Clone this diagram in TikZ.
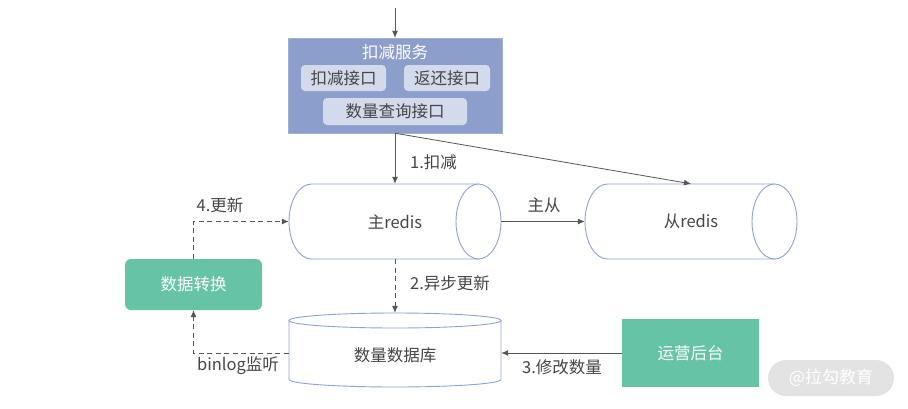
\documentclass[tikz,border=0pt]{standalone}
\usepackage{fontspec}
\setmainfont{Noto Sans CJK SC}
\usetikzlibrary{arrows.meta}
\definecolor{svc}{HTML}{8C9ECC}
\definecolor{subc}{HTML}{D3DAEC}
\definecolor{cyl}{HTML}{8EA2D8}
\definecolor{grn}{HTML}{66C3A5}
\definecolor{txt}{HTML}{454545}
\definecolor{lnc}{HTML}{555555}
\definecolor{wm}{HTML}{E3E3E3}
\begin{document}
\begin{tikzpicture}[x=1pt,y=-1pt,
  every node/.style={font=\fontsize{16.5}{19}\selectfont, text=txt},
  subbox/.style={fill=subc, rounded corners=4pt, inner sep=0pt, minimum height=26pt},
  greenbox/.style={fill=grn, text=white, inner sep=0pt},
  area/.style={inner sep=0pt},
  conn/.style={draw=lnc, line width=0.8pt, -{Latex[length=7pt,width=6pt]}},
  dconn/.style={conn, dash pattern=on 5pt off 3.5pt},
  cylline/.style={draw=cyl, line width=0.9pt, fill=white}]
\useasboundingbox (0,0) rectangle (908,408);

% service box
\node[fill=svc, draw=svc!80!white, inner sep=0pt, minimum width=214pt, minimum height=95pt] (svc) at (395,85.5) {};
\node[text=white] (svct) at (395,52) {扣减服务};
\node[subbox, minimum width=85pt] (kj) at (343.5,78) {扣减接口};
\node[subbox, minimum width=86pt] (fh) at (447,78) {返还接口};
\node[subbox, minimum width=144pt, minimum height=27pt] (cx) at (395,111.5) {数量查询接口};

% master redis (horizontal cylinder)
\draw[cylline] (478.5,184) -- (311.5,184) arc[start angle=-90, end angle=-270, x radius=22.5, y radius=37.5] -- (478.5,259);
\draw[cylline] (478.5,221.5) ellipse [x radius=22.5, y radius=37.5];
\node[area, minimum width=212pt, minimum height=75pt] (mr) at (395,221.5) {主redis};

% slave redis
\draw[cylline] (774.5,184) -- (607.5,184) arc[start angle=-90, end angle=-270, x radius=22.5, y radius=37.5] -- (774.5,259);
\draw[cylline] (774.5,221.5) ellipse [x radius=22.5, y radius=37.5];
\node[area, minimum width=212pt, minimum height=75pt] (sr) at (691,221.5) {从redis};

% database (vertical cylinder)
\draw[cylline] (501,320.5) -- (501,379.5) arc[start angle=0, end angle=180, x radius=106, y radius=7.5] -- (289,320.5) -- cycle;
\draw[cylline] (395,320.5) ellipse [x radius=106, y radius=7.5];
\node[area, minimum width=212pt, minimum height=74pt] (db) at (395,350) {};
\node (dbt) at (395,355) {数量数据库};

% green boxes
\node[greenbox, rounded corners=6pt, minimum width=137pt, minimum height=51pt] (sj) at (193.5,284.5) {数据转换};
\node[greenbox, minimum width=137pt, minimum height=68pt] (yy) at (690.5,353) {运营后台};

% watermark
\node[fill=wm, rounded corners=18pt, minimum width=126pt, minimum height=36pt, inner sep=0pt, text=white, font=\fontsize{17}{20}\selectfont] (wmk) at (831,378) {@拉勾教育};

% connectors
\coordinate (topin) at (395,8);
\draw[conn] (topin) -- (svc.north);
\draw[conn] (svc.south) -- (mr.north);
\draw[conn] (svc.south) -- (sr.north);
\draw[conn] (mr.east) -- (sr.west);
\draw[dconn] (mr.south) -- (db.north);
\draw[conn] (yy.west) -- (yy.west -| db.east);
\draw[dconn] (yy.west -| db.west) -| (sj.south);
\draw[dconn] (sj.north) |- (mr.west);

% labels
\node (l1) at (433.5,162.5) {1.扣减};
\node (l2) at (544,205) {主从};
\node (l3) at (220,205) {4.更新};
\node (l4) at (450,283) {2.异步更新};
\node (l5) at (238,366) {binlog监听};
\node (l6) at (562,367) {3.修改数量};
\end{tikzpicture}
\end{document}
